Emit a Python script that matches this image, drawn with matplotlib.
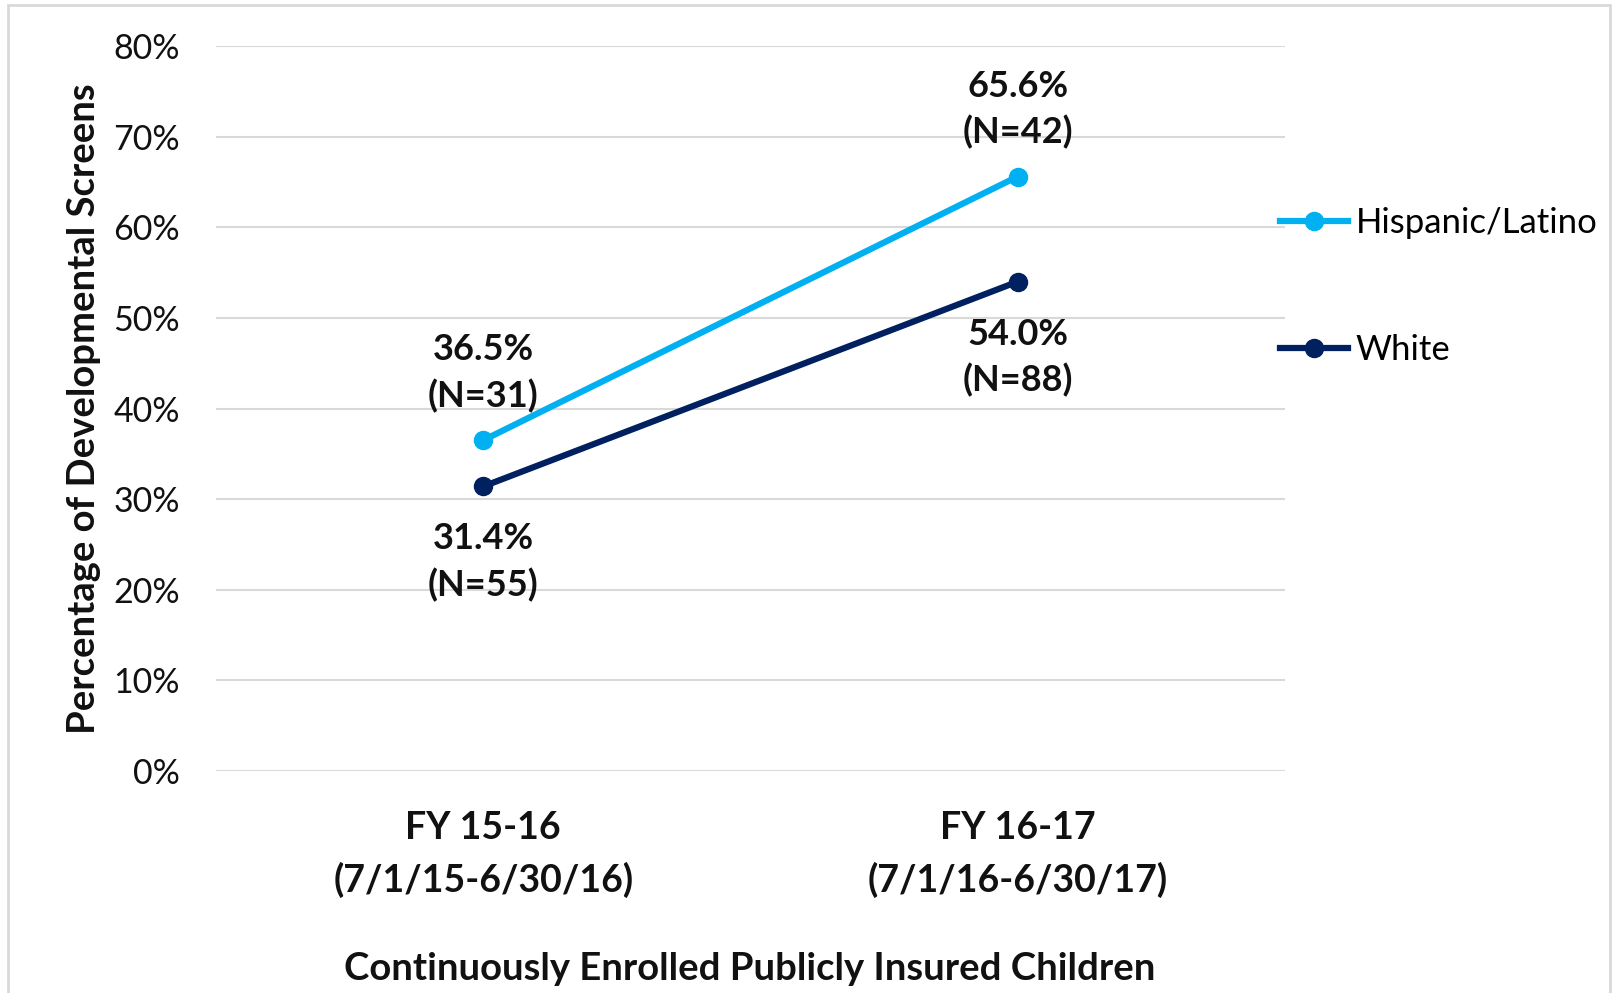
import matplotlib
matplotlib.use("Agg")
import matplotlib.pyplot as plt
from matplotlib.patches import Rectangle

plt.rcParams['font.family'] = ['Lato', 'DejaVu Sans']

categories = ["FY 15-16\n(7/1/15-6/30/16)", "FY 16-17\n(7/1/16-6/30/17)"]
hispanic = [36.5, 65.6]
white = [31.4, 54.0]
hispanic_n = [31, 42]
white_n = [55, 88]
yticks = [0, 10, 20, 30, 40, 50, 60, 70, 80]

c_hisp = "#00B0F0"
c_white = "#002060"
txt = "#111111"

fig = plt.figure(figsize=(16.12, 9.93), dpi=100)
ax = fig.add_axes([216/1612, 1-771/993, (1285-216)/1612, (771-46)/993])

x = list(range(len(categories)))
ax.plot(x, hispanic, color=c_hisp, lw=4.5, marker='o', ms=13, label="Hispanic/Latino", zorder=3)
ax.plot(x, white, color=c_white, lw=4.5, marker='o', ms=13, label="White", zorder=3)

for xi, v, n in zip(x, hispanic, hispanic_n):
    ax.annotate(f"{v:.1f}%\n(N={n})", (xi, v), xytext=(0, 67), textcoords='offset pixels',
                ha='center', va='center', fontsize=26, fontweight='bold', linespacing=1.44, color=txt)
for xi, v, n in zip(x, white, white_n):
    ax.annotate(f"{v:.1f}%\n(N={n})", (xi, v), xytext=(0, -76), textcoords='offset pixels',
                ha='center', va='center', fontsize=26, fontweight='bold', linespacing=1.44, color=txt)

ax.set_xlim(-0.5, 1.5)
ax.set_ylim(0, 80)
ax.set_yticks(yticks)
ax.set_yticklabels([f"{t}%" for t in yticks], fontsize=24.5, color=txt)
ax.set_xticks(x)
ax.set_xticklabels(categories, fontsize=27, fontweight='bold', linespacing=1.55, color=txt)
ax.tick_params(length=0, axis='y', pad=26)
ax.tick_params(length=0, axis='x', pad=29)
ax.grid(axis='y', color='#D9D9D9', lw=1.5)
ax.set_axisbelow(True)
for s in ax.spines.values():
    s.set_visible(False)

ax.set_ylabel("Percentage of Developmental Screens", fontsize=27.5, fontweight='bold', color=txt)
ax.yaxis.set_label_coords(-0.108, 0.5)
ax.set_xlabel("Continuously Enrolled Publicly Insured Children", fontsize=27.5, fontweight='bold', color=txt)
ax.xaxis.set_label_coords(0.499, -0.249)

leg = fig.legend(loc='upper left', bbox_to_anchor=(1280/1612, 1-207/993), frameon=False,
                 fontsize=25, handlelength=1.95, handletextpad=0.23, labelspacing=2.75,
                 borderpad=0, borderaxespad=0)

fig.patches.append(Rectangle((8/1612, -0.02), (1610-8)/1612, 1 - 5/993 + 0.02, transform=fig.transFigure,
                             fill=False, edgecolor='#D9D9D9', lw=2))

fig.savefig("out.png", dpi=100)
